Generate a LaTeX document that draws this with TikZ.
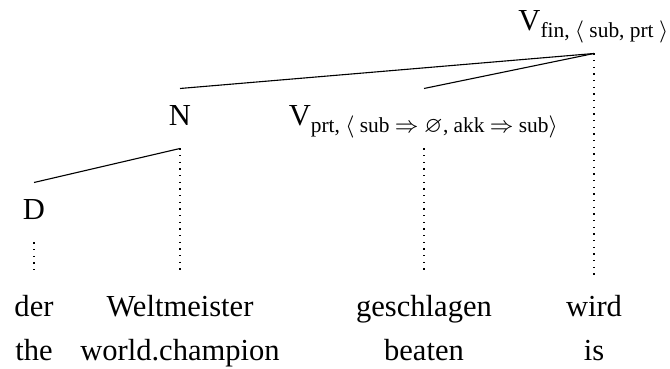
\documentclass[tikz,border=0pt]{standalone}
\usepackage{amsmath}
\usepackage{amssymb}
\usepackage{fontspec}
\setmainfont{Liberation Serif}
\tikzset{
  every node/.style={font=\fontsize{11pt}{13pt}\selectfont},
  cat/.style={inner xsep=0pt, inner ysep=5pt, text height=8.3pt, text depth=2.9pt, anchor=base},
  word/.style={inner xsep=0pt, inner ysep=7pt, text height=8pt, text depth=2.5pt, anchor=base},
  trace/.style={dotted}
}

\begin{document}
\begin{tikzpicture}[x=0.36pt, y=-0.36pt]
\useasboundingbox (0,0) rectangle (670,369);
\node[cat] (vfin) at (594,31) {$\text{V}_{\text{fin, }\langle\text{ sub, prt }\rangle}$};
\node[cat] (n) at (180,126) {N};
\node[cat] (vprt) at (424,126) {$\text{V}_{\text{prt, }\langle\text{ sub }\Rightarrow\text{ }\varnothing\text{, akk }\Rightarrow\text{ sub}\rangle}$};
\node[cat] (d) at (34,220) {D};

\node[word] (der) at (34,317) {der};
\node[word] (weltmeister) at (180,317) {Weltmeister};
\node[word] (geschlagen) at (424,317) {geschlagen};
\node[word] (wird) at (594,317) {wird};
\node[word] (the) at (34,361) {the};
\node[word] (champion) at (180,361) {world.champion};
\node[word] (beaten) at (424,361) {beaten};
\node[word] (is) at (594,361) {is};

\draw (vfin.south) -- (n.north);
\draw (vfin.south) -- (vprt.north);
\draw (n.south) -- (d.north);

\draw[trace] (vfin.south) -- (wird.north);
\draw[trace] (vprt.south) -- (geschlagen.north);
\draw[trace] (n.south) -- (weltmeister.north);
\draw[trace] (d.south) -- (der.north);
\end{tikzpicture}
\end{document}
